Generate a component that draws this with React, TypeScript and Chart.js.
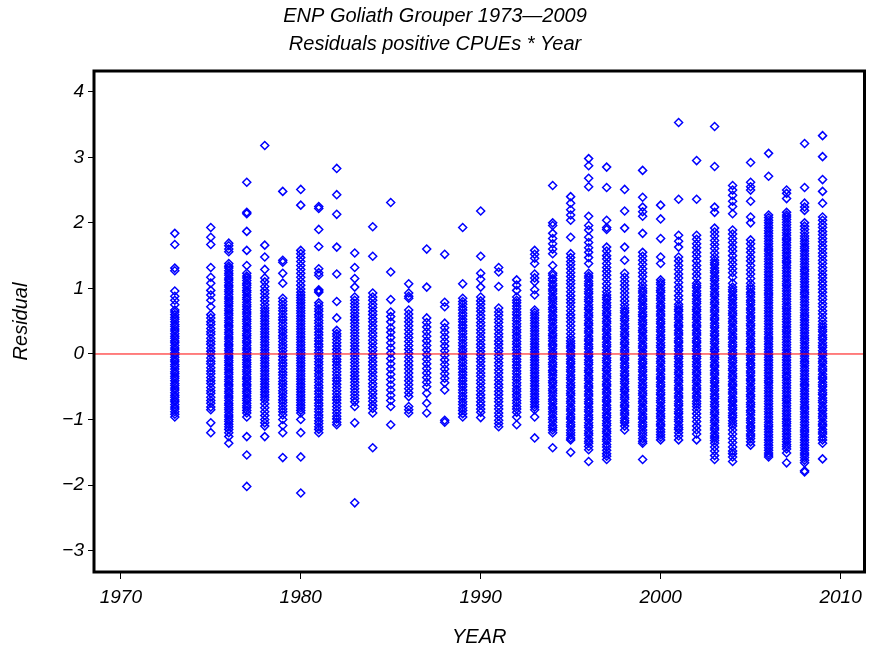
import React, { useEffect, useRef } from "react";
import { Chart, registerables } from "chart.js";

Chart.register(...registerables);

const years = [1973, 1975, 1976, 1977, 1978, 1979, 1980, 1981, 1982, 1983, 1984, 1985, 1986, 1987, 1988, 1989, 1990, 1991, 1992, 1993, 1994, 1995, 1996, 1997, 1998, 1999, 2000, 2001, 2002, 2003, 2004, 2005, 2006, 2007, 2008, 2009];

const r1973 = [1.84, 1.67, 1.31, 1.27, 0.96, 0.88, 0.82, 0.75, 0.67, 0.64, 0.6, 0.56, 0.53, 0.49, 0.45, 0.42, 0.38, 0.35, 0.31, 0.27, 0.24, 0.2, 0.17, 0.13, 0.09, 0.06, 0.02, -0.01, -0.05, -0.09, -0.12, -0.16, -0.19, -0.23, -0.27, -0.3, -0.34, -0.37, -0.41, -0.45, -0.48, -0.52, -0.55, -0.59, -0.63, -0.66, -0.7, -0.73, -0.77, -0.81, -0.84, -0.88, -0.92, -0.96];
const r1975 = [1.93, 1.78, 1.67, 1.32, 1.17, 1.08, 0.97, 0.9, 0.82, 0.72, 0.6, 0.55, 0.49, 0.45, 0.39, 0.34, 0.3, 0.24, 0.19, 0.15, 0.09, 0.04, 0.0, -0.06, -0.11, -0.15, -0.21, -0.26, -0.3, -0.36, -0.41, -0.45, -0.51, -0.56, -0.6, -0.66, -0.71, -0.75, -0.81, -0.85, -1.05, -1.2];
const r1976 = [1.69, 1.65, 1.6, 1.56, 1.38, 1.34, 1.31, 1.27, 1.23, 1.2, 1.16, 1.13, 1.09, 1.05, 1.02, 0.98, 0.95, 0.91, 0.87, 0.84, 0.8, 0.77, 0.73, 0.69, 0.66, 0.62, 0.59, 0.55, 0.51, 0.48, 0.44, 0.41, 0.37, 0.33, 0.3, 0.26, 0.23, 0.19, 0.15, 0.12, 0.08, 0.05, 0.01, -0.03, -0.06, -0.1, -0.13, -0.17, -0.21, -0.24, -0.28, -0.31, -0.35, -0.39, -0.42, -0.46, -0.49, -0.53, -0.57, -0.6, -0.64, -0.67, -0.71, -0.75, -0.78, -0.82, -0.85, -0.89, -0.93, -0.96, -1.0, -1.03, -1.07, -1.11, -1.15, -1.2, -1.26, -1.36];
const r1977 = [2.62, 2.16, 2.14, 1.87, 1.58, 1.35, 1.23, 1.19, 1.16, 1.12, 1.08, 1.05, 1.01, 0.97, 0.94, 0.9, 0.86, 0.83, 0.79, 0.75, 0.72, 0.68, 0.64, 0.61, 0.57, 0.53, 0.5, 0.46, 0.42, 0.39, 0.35, 0.31, 0.28, 0.24, 0.2, 0.17, 0.13, 0.09, 0.06, 0.02, -0.02, -0.05, -0.09, -0.13, -0.16, -0.2, -0.24, -0.27, -0.31, -0.35, -0.38, -0.42, -0.46, -0.49, -0.53, -0.57, -0.6, -0.64, -0.68, -0.71, -0.75, -0.79, -0.82, -0.86, -0.9, -0.96, -1.26, -1.54, -2.02];
const r1978 = [3.18, 1.66, 1.48, 1.29, 1.16, 1.1, 1.03, 0.97, 0.92, 0.86, 0.81, 0.75, 0.7, 0.66, 0.62, 0.58, 0.54, 0.5, 0.46, 0.42, 0.38, 0.34, 0.3, 0.26, 0.22, 0.18, 0.14, 0.1, 0.06, 0.02, -0.02, -0.06, -0.1, -0.14, -0.18, -0.22, -0.26, -0.3, -0.34, -0.38, -0.42, -0.46, -0.5, -0.54, -0.58, -0.62, -0.66, -0.7, -0.76, -0.82, -0.88, -0.94, -1.0, -1.05, -1.1, -1.26];
const r1979 = [2.48, 1.43, 1.4, 1.23, 1.08, 0.85, 0.8, 0.75, 0.7, 0.66, 0.61, 0.56, 0.52, 0.47, 0.42, 0.37, 0.33, 0.28, 0.24, 0.19, 0.14, 0.1, 0.05, 0.0, -0.04, -0.09, -0.14, -0.18, -0.23, -0.28, -0.32, -0.37, -0.42, -0.46, -0.51, -0.56, -0.6, -0.65, -0.7, -0.74, -0.79, -0.84, -0.88, -0.93, -1.0, -1.09, -1.2, -1.58];
const r1980 = [2.51, 2.27, 1.58, 1.53, 1.47, 1.41, 1.35, 1.29, 1.23, 1.17, 1.11, 1.05, 0.99, 0.94, 0.9, 0.86, 0.82, 0.78, 0.74, 0.7, 0.66, 0.62, 0.58, 0.54, 0.5, 0.46, 0.42, 0.38, 0.34, 0.3, 0.26, 0.22, 0.18, 0.14, 0.1, 0.06, 0.02, -0.02, -0.06, -0.1, -0.14, -0.18, -0.22, -0.26, -0.3, -0.34, -0.38, -0.42, -0.46, -0.5, -0.54, -0.58, -0.62, -0.66, -0.7, -0.74, -0.78, -0.82, -0.86, -0.9, -1.0, -1.2, -1.57, -2.12];
const r1981 = [2.25, 2.22, 1.9, 1.64, 1.3, 1.24, 1.2, 0.98, 0.96, 0.94, 0.78, 0.74, 0.69, 0.65, 0.6, 0.56, 0.51, 0.47, 0.42, 0.38, 0.33, 0.29, 0.24, 0.2, 0.15, 0.11, 0.06, 0.02, -0.03, -0.07, -0.12, -0.16, -0.21, -0.25, -0.3, -0.34, -0.39, -0.43, -0.48, -0.52, -0.57, -0.61, -0.66, -0.7, -0.75, -0.79, -0.84, -0.88, -0.93, -0.97, -1.02, -1.06, -1.11, -1.15, -1.2];
const r1982 = [2.83, 2.43, 2.13, 1.63, 1.22, 0.8, 0.55, 0.36, 0.31, 0.27, 0.22, 0.17, 0.12, 0.07, 0.02, -0.03, -0.08, -0.12, -0.17, -0.22, -0.27, -0.32, -0.37, -0.41, -0.46, -0.51, -0.56, -0.61, -0.66, -0.7, -0.75, -0.8, -0.85, -0.9, -0.95, -0.99, -1.04, -1.08];
const r1983 = [1.54, 1.32, 1.15, 1.02, 0.87, 0.82, 0.77, 0.72, 0.67, 0.62, 0.57, 0.52, 0.47, 0.42, 0.37, 0.32, 0.27, 0.22, 0.17, 0.12, 0.07, 0.02, -0.03, -0.08, -0.13, -0.18, -0.23, -0.28, -0.33, -0.38, -0.43, -0.48, -0.53, -0.58, -0.63, -0.68, -0.73, -0.8, -1.05, -2.27];
const r1984 = [1.94, 1.49, 0.93, 0.87, 0.82, 0.76, 0.71, 0.65, 0.6, 0.54, 0.49, 0.43, 0.38, 0.32, 0.27, 0.21, 0.16, 0.1, 0.05, -0.01, -0.06, -0.12, -0.17, -0.23, -0.28, -0.34, -0.39, -0.45, -0.5, -0.56, -0.61, -0.67, -0.72, -0.78, -0.83, -0.9, -1.43];
const r1985 = [2.31, 1.25, 0.83, 0.64, 0.57, 0.49, 0.4, 0.33, 0.25, 0.17, 0.09, 0.01, -0.07, -0.15, -0.23, -0.31, -0.39, -0.47, -0.55, -0.63, -0.71, -0.8, -1.08];
const r1986 = [1.07, 0.93, 0.88, 0.85, 0.67, 0.61, 0.55, 0.49, 0.43, 0.37, 0.31, 0.25, 0.19, 0.13, 0.07, 0.01, -0.05, -0.11, -0.17, -0.23, -0.29, -0.35, -0.41, -0.47, -0.53, -0.59, -0.65, -0.8, -0.85, -0.9];
const r1987 = [1.6, 1.02, 0.55, 0.48, 0.41, 0.34, 0.27, 0.2, 0.13, 0.06, -0.01, -0.08, -0.15, -0.22, -0.29, -0.36, -0.43, -0.5, -0.6, -0.75, -0.9];
const r1988 = [1.52, 0.79, 0.72, 0.47, 0.4, 0.33, 0.26, 0.19, 0.12, 0.05, -0.02, -0.09, -0.16, -0.23, -0.3, -0.37, -0.44, -0.55, -1.01, -1.04];
const r1989 = [1.93, 1.07, 0.85, 0.8, 0.76, 0.71, 0.67, 0.62, 0.58, 0.53, 0.49, 0.44, 0.4, 0.35, 0.31, 0.26, 0.22, 0.17, 0.13, 0.08, 0.04, -0.01, -0.05, -0.1, -0.14, -0.19, -0.23, -0.28, -0.32, -0.37, -0.41, -0.46, -0.5, -0.55, -0.59, -0.64, -0.68, -0.73, -0.77, -0.82, -0.86, -0.91, -0.96];
const r1990 = [2.18, 1.49, 1.23, 1.14, 1.02, 0.87, 0.81, 0.76, 0.7, 0.65, 0.59, 0.54, 0.48, 0.43, 0.37, 0.32, 0.26, 0.21, 0.15, 0.1, 0.04, -0.01, -0.07, -0.12, -0.18, -0.23, -0.29, -0.34, -0.4, -0.45, -0.51, -0.56, -0.62, -0.67, -0.73, -0.78, -0.84, -0.89, -0.97];
const r1991 = [1.32, 1.25, 1.03, 0.7, 0.64, 0.59, 0.53, 0.48, 0.42, 0.37, 0.31, 0.26, 0.2, 0.15, 0.09, 0.04, -0.02, -0.07, -0.13, -0.18, -0.24, -0.29, -0.35, -0.4, -0.46, -0.51, -0.57, -0.62, -0.68, -0.73, -0.79, -0.84, -0.9, -0.95, -1.01, -1.06, -1.11];
const r1992 = [1.13, 1.05, 0.97, 0.87, 0.82, 0.78, 0.73, 0.69, 0.64, 0.6, 0.55, 0.51, 0.46, 0.42, 0.37, 0.33, 0.28, 0.24, 0.19, 0.15, 0.1, 0.06, 0.01, -0.03, -0.08, -0.12, -0.17, -0.21, -0.26, -0.3, -0.35, -0.39, -0.44, -0.48, -0.53, -0.57, -0.62, -0.66, -0.71, -0.75, -0.8, -0.84, -0.89, -0.96, -1.08];
const r1993 = [1.58, 1.52, 1.46, 1.38, 1.22, 1.16, 1.1, 0.98, 0.9, 0.67, 0.63, 0.59, 0.55, 0.51, 0.47, 0.43, 0.39, 0.35, 0.31, 0.27, 0.23, 0.19, 0.15, 0.11, 0.07, 0.03, -0.01, -0.05, -0.09, -0.13, -0.17, -0.21, -0.25, -0.29, -0.33, -0.37, -0.41, -0.45, -0.49, -0.53, -0.57, -0.61, -0.65, -0.69, -0.73, -0.77, -0.81, -0.85, -0.96, -1.28];
const r1994 = [2.57, 2.0, 1.96, 1.84, 1.76, 1.68, 1.6, 1.53, 1.35, 1.23, 1.2, 1.15, 1.12, 1.07, 1.04, 0.99, 0.96, 0.92, 0.87, 0.84, 0.8, 0.76, 0.71, 0.68, 0.64, 0.59, 0.56, 0.52, 0.48, 0.43, 0.4, 0.36, 0.31, 0.28, 0.24, 0.2, 0.15, 0.12, 0.08, 0.03, 0.0, -0.04, -0.08, -0.13, -0.16, -0.2, -0.25, -0.28, -0.32, -0.36, -0.41, -0.44, -0.48, -0.53, -0.56, -0.6, -0.64, -0.69, -0.72, -0.76, -0.81, -0.84, -0.88, -0.92, -0.97, -1.0, -1.04, -1.09, -1.12, -1.16, -1.2, -1.43];
const r1995 = [2.4, 2.3, 2.2, 2.12, 2.04, 1.78, 1.53, 1.47, 1.41, 1.36, 1.3, 1.24, 1.18, 1.12, 1.07, 1.01, 0.95, 0.89, 0.83, 0.78, 0.72, 0.66, 0.6, 0.55, 0.49, 0.43, 0.37, 0.31, 0.25, 0.2, 0.16, 0.12, 0.09, 0.04, 0.0, -0.03, -0.08, -0.12, -0.15, -0.2, -0.24, -0.27, -0.32, -0.36, -0.39, -0.44, -0.48, -0.51, -0.56, -0.6, -0.63, -0.68, -0.72, -0.75, -0.8, -0.84, -0.87, -0.92, -0.96, -0.99, -1.04, -1.08, -1.11, -1.16, -1.2, -1.24, -1.28, -1.31, -1.5];
const r1996 = [2.98, 2.87, 2.68, 2.55, 2.1, 1.96, 1.89, 1.78, 1.7, 1.62, 1.55, 1.47, 1.38, 1.23, 1.19, 1.16, 1.11, 1.07, 1.04, 0.99, 0.95, 0.92, 0.87, 0.83, 0.8, 0.75, 0.71, 0.68, 0.63, 0.59, 0.56, 0.51, 0.47, 0.44, 0.39, 0.35, 0.32, 0.27, 0.23, 0.2, 0.15, 0.11, 0.08, 0.03, -0.01, -0.04, -0.09, -0.13, -0.16, -0.21, -0.25, -0.28, -0.33, -0.37, -0.4, -0.45, -0.49, -0.52, -0.57, -0.61, -0.64, -0.69, -0.73, -0.76, -0.81, -0.85, -0.88, -0.93, -0.97, -1.0, -1.05, -1.09, -1.12, -1.17, -1.21, -1.24, -1.29, -1.33, -1.36, -1.41, -1.46, -1.64];
const r1997 = [2.85, 2.54, 2.04, 1.93, 1.9, 1.63, 1.57, 1.5, 1.45, 1.38, 1.32, 1.26, 1.2, 1.14, 1.07, 1.01, 0.95, 0.9, 0.86, 0.83, 0.78, 0.74, 0.71, 0.66, 0.62, 0.59, 0.54, 0.5, 0.47, 0.42, 0.38, 0.35, 0.3, 0.26, 0.23, 0.18, 0.14, 0.11, 0.06, 0.02, -0.01, -0.06, -0.1, -0.13, -0.18, -0.22, -0.25, -0.3, -0.34, -0.37, -0.42, -0.46, -0.49, -0.54, -0.58, -0.61, -0.66, -0.7, -0.73, -0.78, -0.82, -0.85, -0.9, -0.94, -0.97, -1.02, -1.06, -1.09, -1.14, -1.18, -1.21, -1.26, -1.3, -1.33, -1.38, -1.42, -1.47, -1.52, -1.56, -1.61];
const r1998 = [2.51, 2.18, 1.92, 1.63, 1.43, 1.23, 1.17, 1.11, 1.05, 0.99, 0.93, 0.87, 0.81, 0.75, 0.7, 0.66, 0.63, 0.58, 0.54, 0.51, 0.46, 0.42, 0.39, 0.34, 0.3, 0.27, 0.22, 0.18, 0.15, 0.1, 0.06, 0.03, -0.02, -0.06, -0.09, -0.14, -0.18, -0.21, -0.26, -0.3, -0.33, -0.38, -0.42, -0.45, -0.5, -0.54, -0.57, -0.62, -0.66, -0.69, -0.74, -0.78, -0.81, -0.86, -0.9, -0.93, -0.98, -1.02, -1.05, -1.1, -1.16];
const r1999 = [2.8, 2.39, 2.24, 2.17, 2.1, 1.84, 1.55, 1.49, 1.43, 1.37, 1.3, 1.24, 1.18, 1.11, 1.05, 1.0, 0.96, 0.93, 0.88, 0.84, 0.81, 0.76, 0.72, 0.69, 0.64, 0.6, 0.57, 0.52, 0.48, 0.45, 0.4, 0.36, 0.33, 0.28, 0.24, 0.21, 0.16, 0.12, 0.09, 0.04, 0.0, -0.03, -0.08, -0.12, -0.15, -0.2, -0.24, -0.27, -0.32, -0.36, -0.39, -0.44, -0.48, -0.51, -0.56, -0.6, -0.63, -0.68, -0.72, -0.75, -0.8, -0.84, -0.87, -0.92, -0.96, -0.99, -1.04, -1.08, -1.11, -1.16, -1.2, -1.24, -1.29, -1.33, -1.36, -1.61];
const r2000 = [2.27, 2.06, 1.76, 1.48, 1.38, 1.13, 1.09, 1.06, 1.01, 0.97, 0.94, 0.89, 0.85, 0.82, 0.77, 0.73, 0.7, 0.65, 0.61, 0.58, 0.53, 0.49, 0.46, 0.41, 0.37, 0.34, 0.29, 0.25, 0.22, 0.17, 0.13, 0.1, 0.05, 0.01, -0.02, -0.07, -0.11, -0.14, -0.19, -0.23, -0.26, -0.31, -0.35, -0.38, -0.43, -0.47, -0.5, -0.55, -0.59, -0.62, -0.67, -0.71, -0.74, -0.79, -0.83, -0.86, -0.91, -0.95, -0.98, -1.03, -1.07, -1.1, -1.15, -1.19, -1.23, -1.27, -1.31];
const r2001 = [3.53, 2.36, 1.81, 1.72, 1.63, 1.48, 1.42, 1.35, 1.29, 1.22, 1.16, 1.09, 1.02, 0.96, 0.89, 0.83, 0.76, 0.72, 0.68, 0.65, 0.6, 0.56, 0.53, 0.48, 0.44, 0.41, 0.36, 0.32, 0.29, 0.24, 0.2, 0.17, 0.12, 0.08, 0.05, 0.0, -0.04, -0.07, -0.12, -0.16, -0.19, -0.24, -0.28, -0.31, -0.36, -0.4, -0.43, -0.48, -0.52, -0.55, -0.6, -0.64, -0.67, -0.72, -0.76, -0.79, -0.84, -0.88, -0.91, -0.96, -1.0, -1.03, -1.08, -1.12, -1.15, -1.2, -1.25, -1.31];
const r2002 = [2.95, 2.36, 1.81, 1.75, 1.68, 1.62, 1.55, 1.49, 1.42, 1.35, 1.29, 1.22, 1.16, 1.08, 1.04, 1.01, 0.96, 0.92, 0.89, 0.84, 0.8, 0.77, 0.72, 0.68, 0.65, 0.6, 0.56, 0.53, 0.48, 0.44, 0.41, 0.36, 0.32, 0.29, 0.24, 0.2, 0.17, 0.12, 0.08, 0.05, 0.0, -0.04, -0.07, -0.12, -0.16, -0.19, -0.24, -0.28, -0.31, -0.36, -0.4, -0.43, -0.48, -0.52, -0.55, -0.6, -0.64, -0.67, -0.72, -0.76, -0.8, -0.85, -0.91, -0.97, -1.03, -1.1, -1.16, -1.22, -1.31];
const r2003 = [3.47, 2.86, 2.24, 2.16, 1.92, 1.86, 1.8, 1.73, 1.67, 1.61, 1.54, 1.48, 1.43, 1.39, 1.36, 1.31, 1.27, 1.24, 1.19, 1.15, 1.12, 1.07, 1.03, 1.0, 0.95, 0.91, 0.88, 0.83, 0.79, 0.76, 0.71, 0.67, 0.64, 0.59, 0.55, 0.52, 0.47, 0.43, 0.4, 0.35, 0.31, 0.28, 0.23, 0.19, 0.16, 0.11, 0.07, 0.04, -0.01, -0.05, -0.08, -0.13, -0.17, -0.2, -0.25, -0.29, -0.32, -0.37, -0.41, -0.44, -0.49, -0.53, -0.56, -0.61, -0.65, -0.68, -0.73, -0.77, -0.8, -0.85, -0.89, -0.92, -0.97, -1.01, -1.04, -1.09, -1.13, -1.16, -1.21, -1.25, -1.28, -1.32, -1.36, -1.42, -1.48, -1.55, -1.61];
const r2004 = [2.57, 2.5, 2.42, 2.33, 2.25, 2.14, 1.89, 1.83, 1.76, 1.7, 1.63, 1.57, 1.5, 1.43, 1.37, 1.3, 1.24, 1.17, 1.08, 1.02, 0.98, 0.95, 0.9, 0.86, 0.83, 0.78, 0.74, 0.71, 0.66, 0.62, 0.59, 0.54, 0.5, 0.47, 0.42, 0.38, 0.35, 0.3, 0.26, 0.23, 0.18, 0.14, 0.11, 0.06, 0.02, -0.01, -0.06, -0.1, -0.13, -0.18, -0.22, -0.25, -0.3, -0.34, -0.37, -0.42, -0.46, -0.49, -0.54, -0.58, -0.61, -0.66, -0.7, -0.73, -0.78, -0.82, -0.85, -0.9, -0.94, -0.97, -1.02, -1.06, -1.1, -1.16, -1.22, -1.29, -1.35, -1.42, -1.48, -1.52, -1.57, -1.64];
const r2005 = [2.92, 2.62, 2.55, 2.5, 2.33, 2.09, 2.0, 1.74, 1.68, 1.61, 1.55, 1.48, 1.42, 1.35, 1.28, 1.22, 1.15, 1.08, 1.03, 0.99, 0.94, 0.91, 0.87, 0.82, 0.79, 0.75, 0.7, 0.67, 0.63, 0.58, 0.55, 0.51, 0.46, 0.43, 0.39, 0.34, 0.31, 0.27, 0.22, 0.19, 0.15, 0.1, 0.07, 0.03, -0.02, -0.05, -0.09, -0.14, -0.17, -0.21, -0.26, -0.29, -0.33, -0.38, -0.41, -0.45, -0.5, -0.53, -0.57, -0.62, -0.65, -0.69, -0.74, -0.77, -0.81, -0.86, -0.89, -0.93, -0.98, -1.01, -1.05, -1.1, -1.13, -1.17, -1.22, -1.25, -1.29, -1.34, -1.39];
const r2006 = [3.06, 2.71, 2.12, 2.08, 2.04, 2.0, 1.96, 1.92, 1.88, 1.84, 1.8, 1.76, 1.72, 1.68, 1.64, 1.6, 1.57, 1.53, 1.49, 1.45, 1.41, 1.37, 1.33, 1.29, 1.25, 1.21, 1.17, 1.13, 1.09, 1.05, 1.01, 0.97, 0.93, 0.9, 0.86, 0.82, 0.78, 0.74, 0.7, 0.66, 0.62, 0.58, 0.54, 0.5, 0.46, 0.42, 0.38, 0.34, 0.3, 0.26, 0.23, 0.19, 0.15, 0.11, 0.07, 0.03, -0.01, -0.05, -0.09, -0.13, -0.17, -0.21, -0.25, -0.29, -0.33, -0.37, -0.41, -0.44, -0.48, -0.52, -0.56, -0.6, -0.64, -0.68, -0.72, -0.76, -0.8, -0.84, -0.88, -0.92, -0.96, -1.0, -1.04, -1.08, -1.11, -1.15, -1.19, -1.23, -1.27, -1.31, -1.35, -1.39, -1.43, -1.47, -1.51, -1.54, -1.57];
const r2007 = [2.5, 2.45, 2.37, 2.16, 2.12, 2.09, 2.05, 2.01, 1.97, 1.93, 1.89, 1.85, 1.81, 1.77, 1.74, 1.7, 1.66, 1.62, 1.58, 1.54, 1.5, 1.46, 1.42, 1.39, 1.35, 1.31, 1.27, 1.23, 1.19, 1.15, 1.11, 1.07, 1.04, 1.0, 0.96, 0.92, 0.88, 0.84, 0.8, 0.76, 0.72, 0.69, 0.65, 0.61, 0.57, 0.53, 0.49, 0.45, 0.41, 0.37, 0.34, 0.3, 0.26, 0.22, 0.18, 0.14, 0.1, 0.06, 0.02, -0.01, -0.05, -0.09, -0.13, -0.17, -0.21, -0.25, -0.29, -0.33, -0.36, -0.4, -0.44, -0.48, -0.52, -0.56, -0.6, -0.64, -0.68, -0.71, -0.75, -0.79, -0.83, -0.87, -0.91, -0.95, -0.99, -1.03, -1.06, -1.1, -1.14, -1.18, -1.22, -1.26, -1.3, -1.34, -1.38, -1.41, -1.45, -1.51, -1.66];
const r2008 = [3.21, 2.54, 2.3, 2.24, 2.19, 2.0, 1.95, 1.9, 1.85, 1.8, 1.76, 1.72, 1.68, 1.64, 1.61, 1.57, 1.53, 1.49, 1.45, 1.41, 1.37, 1.33, 1.29, 1.26, 1.22, 1.18, 1.14, 1.1, 1.06, 1.02, 0.98, 0.94, 0.91, 0.87, 0.83, 0.79, 0.75, 0.71, 0.67, 0.63, 0.59, 0.56, 0.52, 0.48, 0.44, 0.4, 0.36, 0.32, 0.28, 0.24, 0.21, 0.17, 0.13, 0.09, 0.05, 0.01, -0.03, -0.07, -0.11, -0.14, -0.18, -0.22, -0.26, -0.3, -0.34, -0.38, -0.42, -0.46, -0.49, -0.53, -0.57, -0.61, -0.65, -0.69, -0.73, -0.77, -0.81, -0.84, -0.88, -0.92, -0.96, -1.0, -1.04, -1.08, -1.12, -1.16, -1.19, -1.23, -1.27, -1.31, -1.35, -1.39, -1.43, -1.47, -1.51, -1.54, -1.58, -1.62, -1.66, -1.78, -1.8];
const r2009 = [3.33, 3.01, 2.66, 2.48, 2.3, 2.09, 2.04, 1.98, 1.93, 1.87, 1.82, 1.76, 1.71, 1.65, 1.6, 1.54, 1.49, 1.43, 1.38, 1.32, 1.27, 1.21, 1.16, 1.1, 1.05, 0.99, 0.94, 0.88, 0.83, 0.77, 0.72, 0.66, 0.61, 0.55, 0.5, 0.45, 0.41, 0.37, 0.34, 0.29, 0.25, 0.22, 0.17, 0.13, 0.1, 0.05, 0.01, -0.02, -0.07, -0.11, -0.14, -0.19, -0.23, -0.26, -0.31, -0.35, -0.38, -0.43, -0.47, -0.5, -0.55, -0.59, -0.62, -0.67, -0.71, -0.74, -0.79, -0.83, -0.86, -0.91, -0.95, -0.98, -1.03, -1.07, -1.1, -1.15, -1.19, -1.22, -1.27, -1.31, -1.36, -1.6];

const residuals = [r1973, r1975, r1976, r1977, r1978, r1979, r1980, r1981, r1982, r1983, r1984, r1985, r1986, r1987, r1988, r1989, r1990, r1991, r1992, r1993, r1994, r1995, r1996, r1997, r1998, r1999, r2000, r2001, r2002, r2003, r2004, r2005, r2006, r2007, r2008, r2009];

const xTicks = [1970, 1980, 1990, 2000, 2010];
const yTicks = [-3, -2, -1, 0, 1, 2, 3, 4];
const titleLines = ["ENP Goliath Grouper 1973\u20142009", "Residuals positive CPUEs * Year"];
const xTitle = "YEAR";
const yTitle = "Residual";

const FONT = '"Liberation Sans", Arial, Helvetica, sans-serif';

export default function App() {
  const ref = useRef<HTMLCanvasElement | null>(null);

  useEffect(() => {
    document.body.style.margin = "0";
    const canvas = ref.current;
    if (!canvas) return;
    const points = years.flatMap((yr, i) => residuals[i].map((v) => ({ x: yr, y: v })));

    const deco = {
      id: "deco",
      afterDatasetsDraw(chart: any) {
        const { ctx, chartArea: a, scales } = chart;
        const y0 = scales.y.getPixelForValue(0);
        ctx.save();
        ctx.strokeStyle = "#ff0000";
        ctx.lineWidth = 1;
        ctx.beginPath();
        ctx.moveTo(a.left, y0);
        ctx.lineTo(a.right, y0);
        ctx.stroke();
        ctx.restore();
      },
      afterDraw(chart: any) {
        const { ctx, chartArea: a, width } = chart;
        ctx.save();
        ctx.strokeStyle = "#000";
        ctx.lineWidth = 3;
        ctx.strokeRect(a.left, a.top, a.right - a.left, a.bottom - a.top);
        ctx.fillStyle = "#000";
        ctx.textAlign = "center";
        ctx.textBaseline = "middle";
        ctx.font = `italic 20px ${FONT}`;
        ctx.fillText(titleLines[0], width / 2, 16);
        ctx.fillText(titleLines[1], width / 2, 44);
        ctx.fillText(xTitle, (a.left + a.right) / 2, 637);
        ctx.translate(21, (a.top + a.bottom) / 2);
        ctx.rotate(-Math.PI / 2);
        ctx.fillText(yTitle, 0, 0);
        ctx.restore();
      },
    };

    const tickFont = { family: FONT, size: 19, style: "italic" as const };

    const chart = new Chart(canvas, {
      type: "scatter",
      data: {
        datasets: [
          {
            data: points,
            pointStyle: "rectRot",
            pointRadius: 4,
            pointHoverRadius: 4,
            pointBorderWidth: 1.5,
            pointBorderColor: "#0000ff",
            pointBackgroundColor: "rgba(0,0,0,0)",
            showLine: false,
          },
        ],
      },
      options: {
        responsive: false,
        animation: false,
        devicePixelRatio: 1,
        events: [],
        layout: { padding: { top: 71, right: 2, left: 0, bottom: 0 } },
        plugins: {
          legend: { display: false },
          title: { display: false },
          tooltip: { enabled: false },
        },
        scales: {
          x: {
            type: "linear",
            min: 1968.51,
            max: 2011.33,
            afterBuildTicks: (s: any) => {
              s.ticks = xTicks.map((v) => ({ value: v }));
            },
            afterFit: (s: any) => {
              s.height = 81;
            },
            grid: { drawOnChartArea: false, drawTicks: true, tickLength: 7, color: "#000", lineWidth: 1 },
            border: { display: false },
            ticks: {
              color: "#000",
              font: tickFont,
              padding: 7,
              maxRotation: 0,
              autoSkip: false,
              callback: (v: any) => String(v),
            },
          },
          y: {
            type: "linear",
            min: -3.325,
            max: 4.316,
            afterBuildTicks: (s: any) => {
              s.ticks = yTicks.map((v) => ({ value: v }));
            },
            afterFit: (s: any) => {
              s.width = 94;
            },
            grid: { drawOnChartArea: false, drawTicks: true, tickLength: 6, color: "#000", lineWidth: 1 },
            border: { display: false },
            ticks: {
              color: "#000",
              font: tickFont,
              padding: 4,
              autoSkip: false,
              callback: (v: any) => (Number(v) < 0 ? "\u2212" + Math.abs(Number(v)) : String(v)),
            },
          },
        },
      },
      plugins: [deco],
    });
    return () => chart.destroy();
  }, []);

  return (
    <div style={{ width: 870, height: 653, position: "relative" }}>
      <canvas ref={ref} width={870} height={653} style={{ display: "block" }} />
    </div>
  );
}
